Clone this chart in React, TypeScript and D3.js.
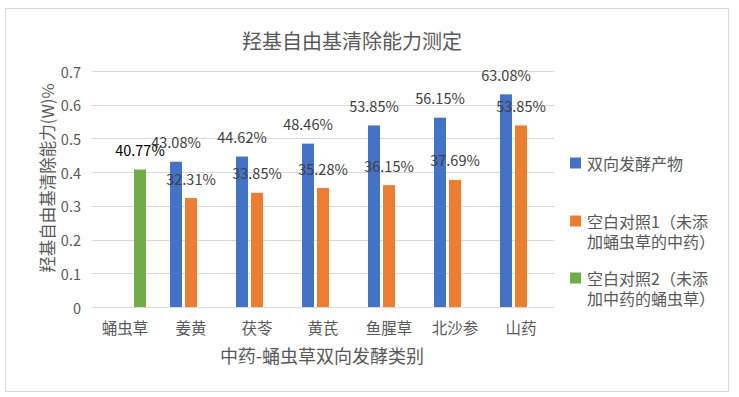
import React from 'react';
import * as d3 from 'd3';

const categories = ['蛹虫草', '姜黄', '茯苓', '黄芪', '鱼腥草', '北沙参', '山药'];
const seriesNames = ['双向发酵产物', '空白对照1（未添加蛹虫草的中药）', '空白对照2（未添加中药的蛹虫草）'];
const legendLines = [['双向发酵产物'], ['空白对照1（未添', '加蛹虫草的中药）'], ['空白对照2（未添', '加中药的蛹虫草）']];
const ferment = [null, 0.4308, 0.4462, 0.4846, 0.5385, 0.5615, 0.6308];
const blank1 = [null, 0.3231, 0.3385, 0.3528, 0.3615, 0.3769, 0.5385];
const blank2 = [0.4077, null, null, null, null, null, null];
const yTicks = [0, 0.1, 0.2, 0.3, 0.4, 0.5, 0.6, 0.7];
const colors = ['#4472C4', '#ED7D31', '#70AD47'];

const FONT = '"Noto Sans CJK SC", "Noto Sans", sans-serif';

export default function App() {
  const width = 739, height = 397;
  const plot = { left: 92, right: 554, top: 71, bottom: 307 };

  const x = d3.scaleBand<string>().domain(categories).range([plot.left, plot.right]).paddingInner(0.364).paddingOuter(0.182);
  const xi = d3.scaleBand<number>().domain([0, 1, 2]).range([0, x.bandwidth()]).paddingInner(0.2);
  const y = d3.scaleLinear().domain([0, 0.7]).range([plot.bottom, plot.top]);

  const series = [ferment, blank1, blank2];

  return (
    <div style={{ position: 'fixed', left: 0, top: 0 }}>
      <svg width={width} height={height} style={{ display: 'block', background: '#fff' }}>
        <rect x={5.5} y={8.5} width={723} height={383} fill="#fff" stroke="#d9d9d9" />
        <text x={352} y={40} textAnchor="middle" dominantBaseline="central" fontFamily={FONT} fontSize={20} fill="#595959">
          羟基自由基清除能力测定
        </text>

        {yTicks.map(t => (
          <g key={t}>
            <line x1={plot.left} x2={plot.right} y1={Math.round(y(t)) + 0.5} y2={Math.round(y(t)) + 0.5} stroke="#d9d9d9" />
            <text x={81} y={y(t)} textAnchor="end" dominantBaseline="central" fontFamily={FONT} fontSize={14.5} fill="#595959">
              {d3.format('')(+t.toFixed(1))}
            </text>
          </g>
        ))}

        {categories.map(c => (
          <text key={c} x={x(c)! + x.bandwidth() / 2} y={327} textAnchor="middle" dominantBaseline="central" fontFamily={FONT} fontSize={15.5} fill="#595959">
            {c}
          </text>
        ))}

        {series.map((vals, si) =>
          vals.map((v, ci) => {
            if (v == null) return null;
            const bx = x(categories[ci])! + xi(si)!;
            return (
              <g key={si + '-' + ci}>
                <rect x={bx} y={y(v)} width={xi.bandwidth()} height={y(0) - y(v)} fill={colors[si]} />
              </g>
            );
          })
        )}

        {series.map((vals, si) =>
          vals.map((v, ci) => {
            if (v == null) return null;
            const bx = x(categories[ci])! + xi(si)! + xi.bandwidth() / 2;
            return (
              <text key={'l' + si + '-' + ci} x={bx} y={y(v) - 20} textAnchor="middle" dominantBaseline="central" fontFamily={FONT} fontSize={14.5} fill={si === 2 ? '#000' : '#404040'}>
                {(v * 100).toFixed(2) + '%'}
              </text>
            );
          })
        )}

        <text transform={`translate(47,178) rotate(-90)`} textAnchor="middle" dominantBaseline="central" fontFamily={FONT} fontSize={16.5} fill="#595959">
          羟基自由基清除能力(W)%
        </text>
        <text x={322} y={355} textAnchor="middle" dominantBaseline="central" fontFamily={FONT} fontSize={18} fill="#595959">
          中药-蛹虫草双向发酵类别
        </text>

        {seriesNames.map((name, i) => {
          const cy = [163, 221, 278][i];
          return (
            <g key={name}>
              <rect x={570} y={cy - 5.5} width={11} height={11} fill={colors[i]} />
              {legendLines[i].map((ln, li) => (
                <text key={li} x={587} y={cy + li * 20} dominantBaseline="central" fontFamily={FONT} fontSize={16} fill="#595959">
                  {ln}
                </text>
              ))}
            </g>
          );
        })}
      </svg>
    </div>
  );
}
